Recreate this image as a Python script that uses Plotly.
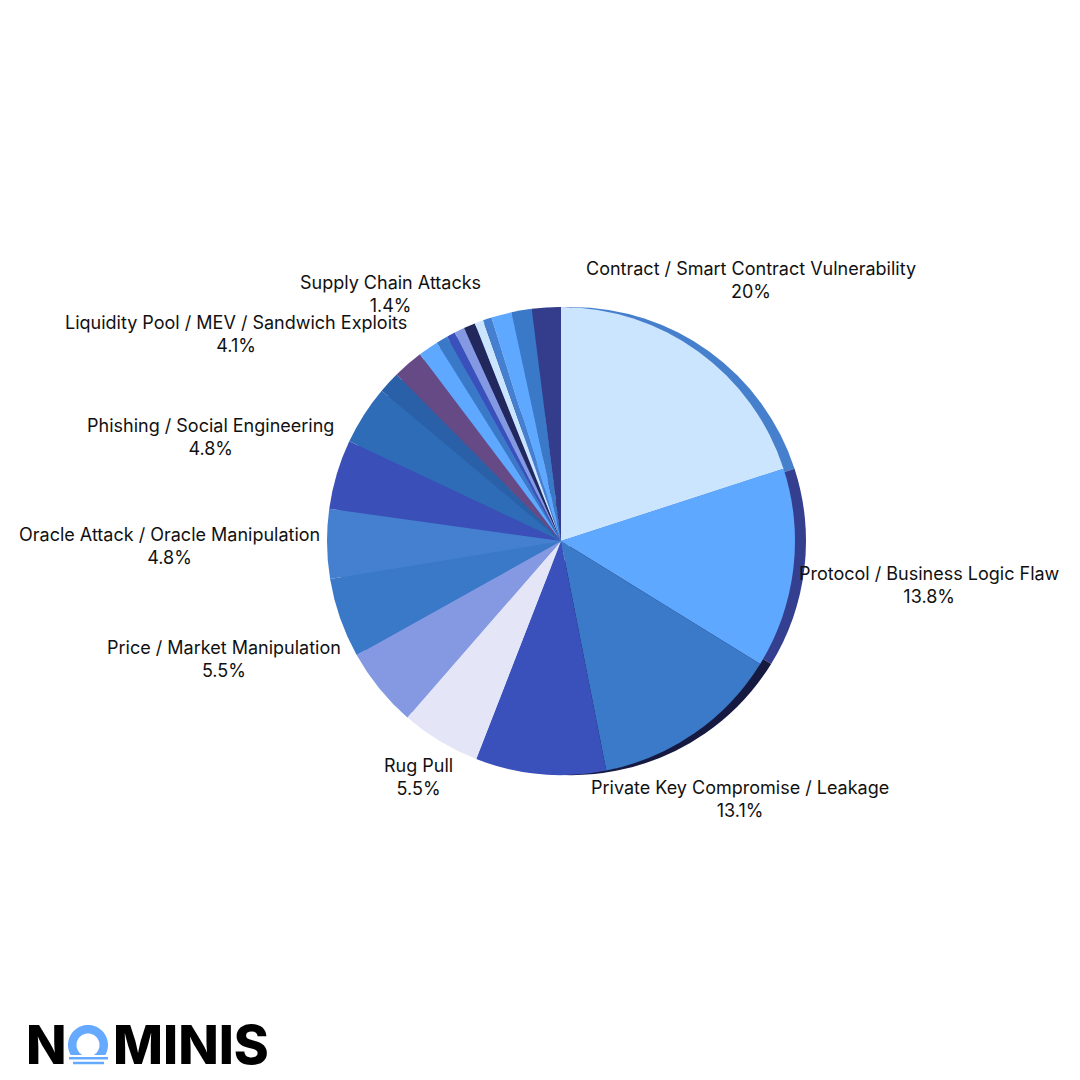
import numpy as np
import plotly.graph_objects as go

W = H = 1080

# ---------------- data ----------------
categories = [
    "Contract / Smart Contract Vulnerability",
    "Protocol / Business Logic Flaw",
    "Private Key Compromise / Leakage",
    "Other A",
    "Rug Pull",
    "Other B",
    "Price / Market Manipulation",
    "Oracle Attack / Oracle Manipulation",
    "Phishing / Social Engineering",
    "Liquidity Pool / MEV / Sandwich Exploits",
    "Other C",
    "Other D",
    "Supply Chain Attacks",
    "Other E",
    "Other F",
    "Other G",
    "Other H",
    "Other I",
    "Other J",
    "Other K",
    "Other L",
    "Other M",
]
values = [20.0, 13.8, 13.1, 9.0, 5.5, 5.5, 5.5, 4.8, 4.8, 4.1,
          1.5, 2.1, 1.4, 0.8, 0.6, 0.7, 0.8, 0.6, 0.6, 1.4, 1.4, 2.0]
labelled = [True, True, True, False, True, False, True, True, True, True,
            False, False, True, False, False, False, False, False, False, False, False, False]
slice_colors = ["#cce5ff", "#5fa8ff", "#3a7ac8", "#3a50bb", "#e4e6f8", "#8599e3",
                "#3a78c8", "#4580d0", "#3a4fb8", "#2e6cb8", "#2a60a8", "#654a85",
                "#5fa8ff", "#3a78c8", "#3a50bb", "#8599e3", "#22285c", "#cce5ff",
                "#4580d0", "#5fa8ff", "#3a78c8", "#333d8c"]
rim_colors = ["#467fcc", "#353f8f", "#161a40", "#161a40"] + slice_colors[4:]

# ---------------- geometry (pixels) ----------------
CX, CY, R = 561, 541, 234
RIM_SHIFT = 11
FONT = "Inter"
FSIZE = 18
CHAR_W = 8.6
HALF_H = 21
GAP = 7


def dom(cx, cy, r):
    return dict(x=[(cx - r) / W, (cx + r) / W],
                y=[1 - (cy + r) / H, 1 - (cy - r) / H])


fig = go.Figure()
fig.add_trace(go.Pie(labels=categories, values=values, sort=False, direction="clockwise",
                     rotation=0, textinfo="none", hoverinfo="skip", showlegend=False,
                     marker=dict(colors=rim_colors, line=dict(width=0)),
                     domain=dom(CX + RIM_SHIFT, CY, R)))
fig.add_trace(go.Pie(labels=categories, values=values, sort=False, direction="clockwise",
                     rotation=0, textinfo="none", showlegend=False,
                     marker=dict(colors=slice_colors, line=dict(width=0)),
                     domain=dom(CX, CY, R)))


def fmt_pct(p):
    s = f"{p:.3g}"
    if "." in s:
        s = s.rstrip("0").rstrip(".")
    return s + "%"


def nearest_dist(X, Y, w, h):
    nx = min(max(0, X - w), X + w)
    ny = min(max(0, Y - h), Y + h)
    return np.hypot(nx, ny)


total = sum(values)
cum = 0.0
annotations = []
for name, v, show in zip(categories, values, labelled):
    mid = (cum + v / 2) / total * 2 * np.pi
    cum += v
    if not show:
        continue
    ux, uy = np.sin(mid), -np.cos(mid)
    w = CHAR_W * len(name) / 2
    lo, hi = 0.0, 1000.0
    for _ in range(60):
        d = (lo + hi) / 2
        if nearest_dist(d * ux, d * uy, w, HALF_H) < R + GAP:
            lo = d
        else:
            hi = d
    px, py = CX + hi * ux, CY + hi * uy
    annotations.append(dict(
        x=px / W, y=1 - py / H, xref="paper", yref="paper",
        xanchor="center", yanchor="middle", showarrow=False, align="center",
        text=f"{name}<br>{fmt_pct(v / total * 100)}",
        font=dict(family=FONT, size=FSIZE, color="#111111")))

# ---------------- logo ----------------
def P(x, y):
    return x / W, 1 - y / H


def poly_path(pts):
    s = ""
    for i, (x, y) in enumerate(pts):
        xx, yy = P(x, y)
        s += ("M" if i == 0 else "L") + f"{xx:.5f},{yy:.5f} "
    return s + "Z"


ocx, ocy, ro, ri, yclip = 88, 1045, 20, 11.5, 1055
po = np.degrees(np.arccos(-(yclip - ocy) / ro))
pi_ = np.degrees(np.arccos(-(yclip - ocy) / ri))
pts = [(ocx + ro * np.sin(np.radians(a)), ocy - ro * np.cos(np.radians(a)))
       for a in np.linspace(-po, po, 60)]
pts += [(ocx + ri * np.sin(np.radians(a)), ocy - ri * np.cos(np.radians(a)))
        for a in np.linspace(pi_, -pi_, 60)]
logo_blue = "#66aaff"
shapes = [
    dict(type="path", path=poly_path(pts), xref="paper", yref="paper",
         fillcolor=logo_blue, line=dict(width=0), layer="above"),
    dict(type="path", path=poly_path([(69, 1057), (108, 1057), (108, 1059.6), (69, 1059.6)]),
         xref="paper", yref="paper", fillcolor=logo_blue, line=dict(width=0), layer="above"),
    dict(type="path", path=poly_path([(73, 1061.8), (104, 1061.8), (104, 1064.2), (73, 1064.2)]),
         xref="paper", yref="paper", fillcolor=logo_blue, line=dict(width=0), layer="above"),
]
lx, ly = P(24, 1045)
annotations.append(dict(x=lx, y=ly, xref="paper", yref="paper", xanchor="left", yanchor="middle",
                        showarrow=False, text="N",
                        font=dict(family=FONT, size=53, color="#000000", weight=800)))
lx, ly = P(111, 1045)
annotations.append(dict(x=lx, y=ly, xref="paper", yref="paper", xanchor="left", yanchor="middle",
                        showarrow=False, text="MINIS",
                        font=dict(family=FONT, size=53, color="#000000", weight=800)))

fig.update_layout(width=W, height=H, margin=dict(l=0, r=0, t=0, b=0),
                  paper_bgcolor="white", plot_bgcolor="white",
                  annotations=annotations, shapes=shapes, showlegend=False)

fig.write_html("out.html", config={"displayModeBar": False},
               post_script="document.body.style.margin='0';")
